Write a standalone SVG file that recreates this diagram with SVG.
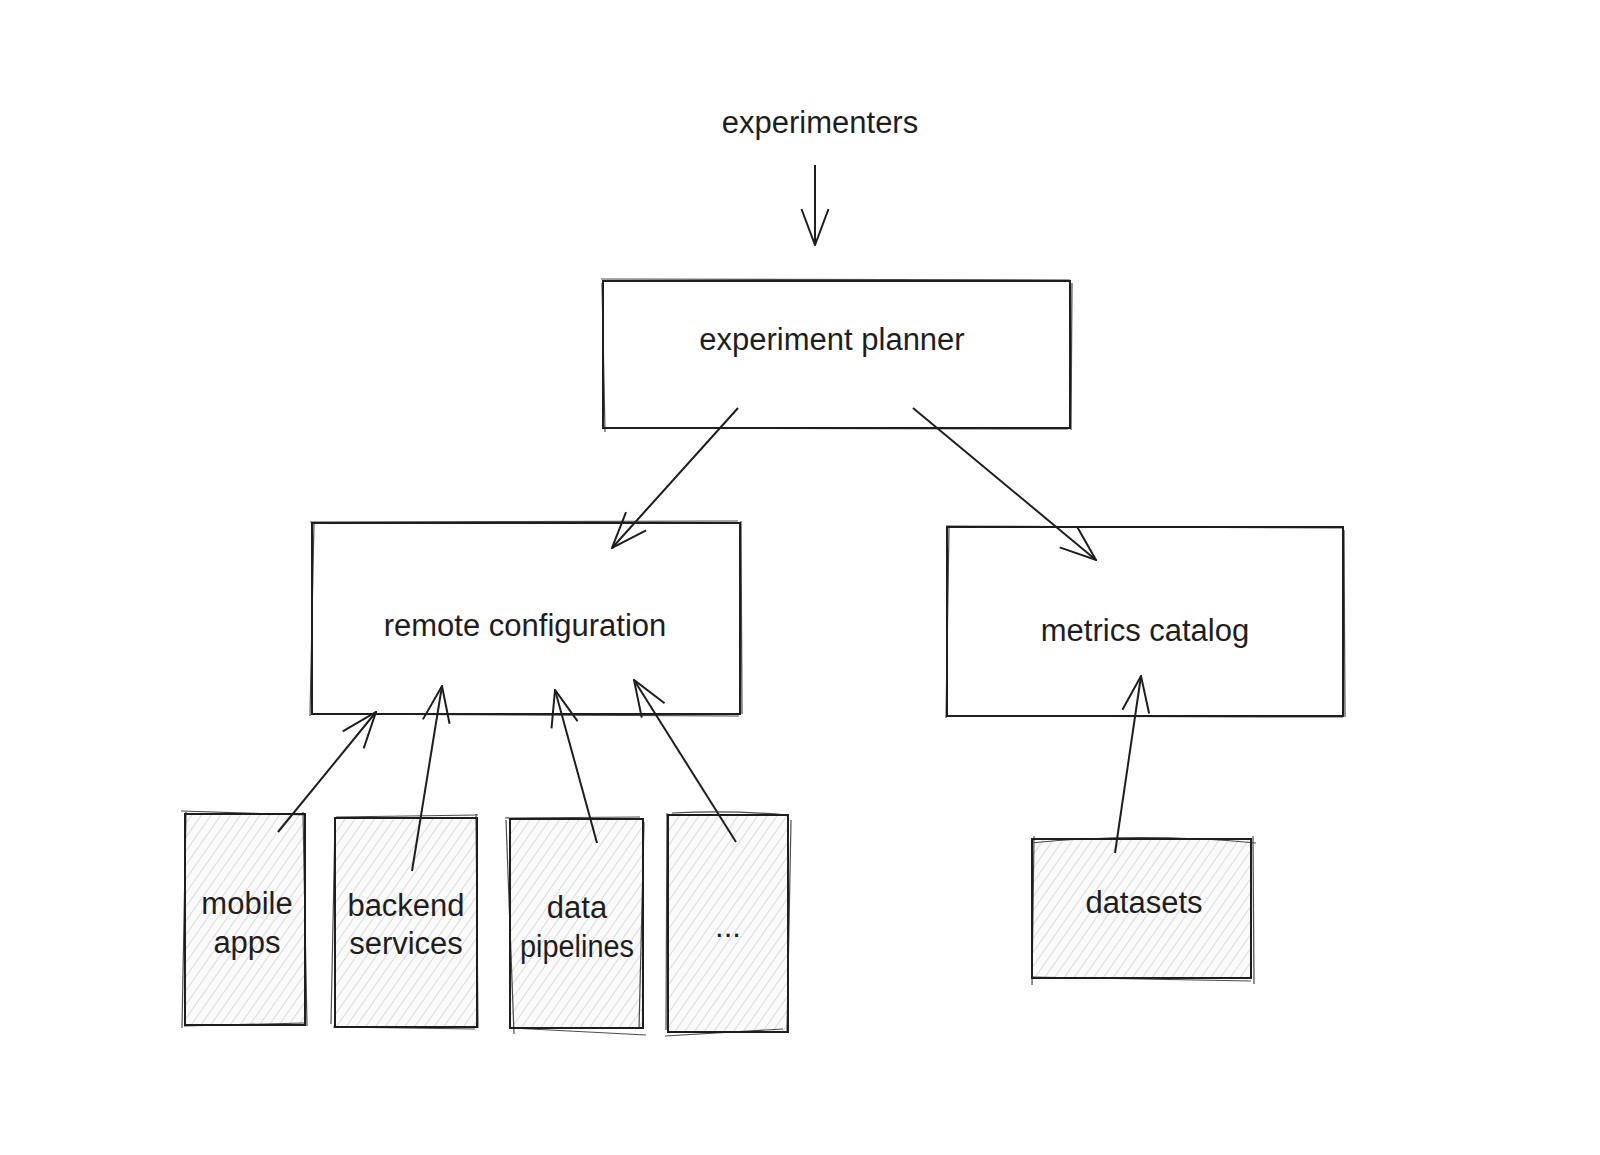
<svg xmlns="http://www.w3.org/2000/svg" width="1600" height="1155" viewBox="0 0 1600 1155">
<defs>
<style>
.box{fill:none;stroke:#1e1e1e;stroke-width:2}
.sk{fill:none;stroke:#1e1e1e;stroke-width:1.2;opacity:0.8}
.hbox{fill:url(#hatch);stroke:#1e1e1e;stroke-width:2}
.lbl{font-family:"Liberation Sans","DejaVu Sans",sans-serif;font-size:31px;fill:#1e1e1e;text-anchor:middle;dominant-baseline:central}
.conn{fill:none;stroke:#1e1e1e;stroke-width:2;marker-end:url(#arr)}
</style>
<pattern id="hatch" patternUnits="userSpaceOnUse" width="8" height="8" patternTransform="rotate(35)">
<rect width="8" height="8" fill="#fafafa"/>
<line x1="0" y1="0" x2="0" y2="8" stroke="#c3c6ca" stroke-width="1.2"/>
</pattern>
<marker id="arr" viewBox="0 0 38 30" refX="37" refY="15" markerWidth="38" markerHeight="30" markerUnits="userSpaceOnUse" orient="auto">
<path d="M1,1.5 L37,15 L1,28.5" fill="none" stroke="#1e1e1e" stroke-width="2"/>
</marker>
</defs>
<rect width="1600" height="1155" fill="#ffffff"/>

<g id="experimenters">
<text class="lbl" x="820" y="122">experimenters</text>
</g>

<g id="planner">
<rect class="box" x="603" y="281" width="467" height="147"/>
<path class="sk" d="M601,279 L1070,280 M1072,283 L1071,430 M1068,429 L604,428 M605,432 L602,283"/>
<text class="lbl" x="832" y="339">experiment planner</text>
</g>

<g id="remote-config">
<rect class="box" x="312" y="523" width="428" height="191"/>
<path class="sk" d="M310,522 L738,521 M741,521 L742,714 M739,716 L311,714 M310,716 L314,522"/>
<text class="lbl" x="525" y="625">remote configuration</text>
</g>

<g id="metrics-catalog">
<rect class="box" x="947" y="527" width="396" height="189"/>
<path class="sk" d="M946,526 L1342,528 M1344,530 L1345,717 M1343,717 L949,716 M946,718 L949,528"/>
<text class="lbl" x="1145" y="630">metrics catalog</text>
</g>

<g id="mobile-apps">
<rect class="hbox" x="185" y="814" width="120" height="211"/>
<path class="sk" d="M181,811 L306,815 M303,812 L307,1026 M305,1023 L184,1026 M182,1028 L186,812"/>
<text class="lbl" x="247" y="903">mobile</text>
<text class="lbl" x="247" y="942">apps</text>
</g>

<g id="backend-services">
<rect class="hbox" x="335" y="818" width="142" height="209"/>
<path class="sk" d="M336,817 L478,815 M476,814 L478,1028 M475,1029 L333,1027 M331,1024 L335,822"/>
<text class="lbl" x="406" y="905">backend</text>
<text class="lbl" x="406" y="943">services</text>
</g>

<g id="data-pipelines">
<rect class="hbox" x="510" y="819" width="133" height="209"/>
<path class="sk" d="M505,818 L640,817 M644,822 L639,1029 M646,1035 L511,1028 M514,1034 L506,820"/>
<text class="lbl" x="577" y="907">data</text>
<text class="lbl" x="577" y="946" textLength="114" lengthAdjust="spacingAndGlyphs">pipelines</text>
</g>

<g id="others">
<rect class="hbox" x="668" y="815" width="120" height="217"/>
<path class="sk" d="M672,813 Q730,810 787,815 M791,820 L787,1031 M783,1029 L665,1036 M666,1030 L667,813"/>
<text class="lbl" x="728" y="926">...</text>
</g>

<g id="datasets">
<rect class="hbox" x="1032" y="839" width="219" height="139"/>
<path class="sk" d="M1031,843 Q1140,832 1256,843 M1253,836 L1254,984 M1251,981 L1031,977 M1032,985 L1034,836"/>
<text class="lbl" x="1144" y="902">datasets</text>
</g>

<g id="connectors">
<line class="conn" x1="815" y1="165" x2="815" y2="245"/>
<line class="conn" x1="738" y1="408" x2="612" y2="548"/>
<line class="conn" x1="913" y1="408" x2="1096" y2="560"/>
<line class="conn" x1="278" y1="832" x2="376" y2="712"/>
<line class="conn" x1="412" y1="871" x2="442" y2="686"/>
<line class="conn" x1="597" y1="843" x2="555" y2="690"/>
<line class="conn" x1="736" y1="842" x2="634" y2="680"/>
<line class="conn" x1="1115" y1="853" x2="1141" y2="676"/>
</g>
</svg>
